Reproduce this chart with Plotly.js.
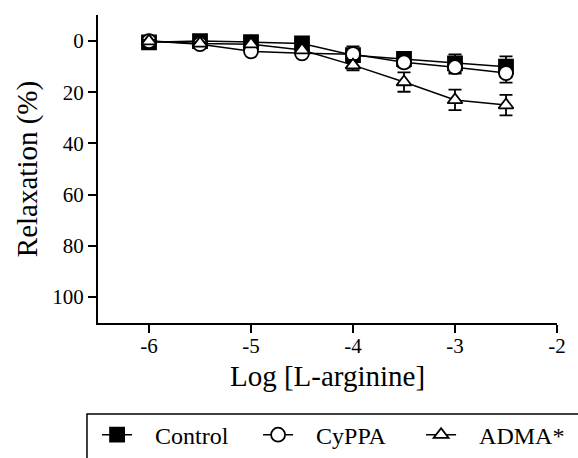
<!DOCTYPE html>
<html>
<head>
<meta charset="utf-8">
<script src="https://cdn.plot.ly/plotly-3.0.1.min.js"></script>
<style>html,body{margin:0;padding:0;background:#fff;}#chart{width:578px;height:458px;}</style>
</head>
<body>
<div id="chart"></div>
<script>
var logConc = [-6, -5.5, -5, -4.5, -4, -3.5, -3, -2.5];
var controlVals = [0.5, 0, 0.4, 0.9, 5.5, 7, 8.7, 10];
var controlErr  = [0.5, 0.5, 0.5, 0.8, 2, 1.5, 3.5, 4];
var cyppaVals = [0, 1.2, 4, 4.8, 5.1, 8.3, 10.2, 12.5];
var cyppaErr  = [0.5, 0.8, 0.8, 1, 3, 2, 2.5, 3.7];
var admaVals = [0, 0.9, 1.2, 3.5, 9.4, 16, 23, 25];
var admaErr  = [0.5, 0.5, 0.8, 1, 2, 3.8, 4, 4];
var seriesNames = ['Control', 'CyPPA', 'ADMA*'];
var xTicks = [-6, -5, -4, -3, -2];
var yTicks = [0, 20, 40, 60, 80, 100];

var pad = '\u00a0\u00a0\u00a0';
var FAM = 'Liberation Serif';
function mk(vals, err, name, sym, fill, lw) {
  return {
    x: logConc, y: vals, name: pad + name, type: 'scatter', mode: 'lines+markers',
    line: {color: '#000', width: 1.5},
    marker: {symbol: sym, size: sym === 'triangle-up' ? 13 : 14, color: fill, line: {color: '#000', width: 1.8}},
    error_y: {type: 'data', array: err, visible: true, color: '#000', thickness: 1.8, width: 6.5},
    legendwidth: lw
  };
}
var traces = [
  mk(controlVals, controlErr, seriesNames[0], 'square', '#000', 116),
  mk(cyppaVals, cyppaErr, seriesNames[1], 'circle', '#fff', 118),
  mk(admaVals, admaErr, seriesNames[2], 'triangle-up', '#fff', 110)
];
var layout = {
  width: 578, height: 458,
  margin: {l: 98, r: 21, t: 15, b: 135, autoexpand: false},
  paper_bgcolor: '#fff', plot_bgcolor: '#fff',
  font: {family: FAM, color: '#000'},
  showlegend: true,
  xaxis: {
    range: [-6.5, -2], tickvals: xTicks, ticktext: xTicks.map(String),
    showgrid: false, zeroline: false, showline: true, linecolor: '#000', linewidth: 2,
    ticks: 'outside', ticklen: 8, tickwidth: 2, tickcolor: '#000', ticklabelstandoff: -5,
    tickfont: {family: FAM, size: 21, color: '#000'},
    title: {text: 'Log [L-arginine]', font: {family: FAM, size: 29, color: '#000'}, standoff: 8}
  },
  yaxis: {
    range: [110.2, -10.2], tickvals: yTicks, ticktext: yTicks.map(String),
    showgrid: false, zeroline: false, showline: true, linecolor: '#000', linewidth: 2,
    ticks: 'outside', ticklen: 8, tickwidth: 2, tickcolor: '#000',
    tickfont: {family: FAM, size: 21, color: '#000'},
    title: {text: 'Relaxation (%)', font: {family: FAM, size: 29, color: '#000'}, standoff: 6}
  },
  legend: {
    orientation: 'h', x: -0.002, xanchor: 'left', y: -0.364, yanchor: 'middle',
    font: {family: FAM, size: 24, color: '#000'},
    bgcolor: 'rgba(0,0,0,0)', borderwidth: 0
  },
  shapes: [{
    type: 'rect', xref: 'paper', yref: 'paper',
    x0: -0.024, x1: 1.2, y0: -0.2955, y1: -0.6,
    line: {color: '#000', width: 1.5}, fillcolor: 'rgba(0,0,0,0)'
  }]
};
Plotly.newPlot('chart', traces, layout, {displayModeBar: false, staticPlot: true});
</script>
</body>
</html>
